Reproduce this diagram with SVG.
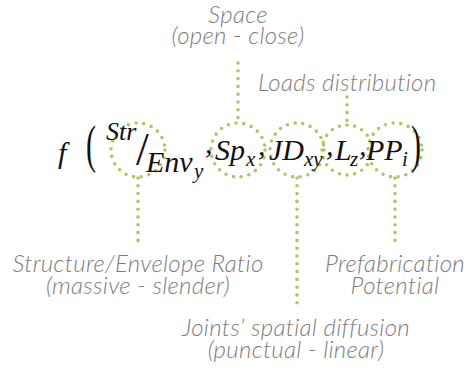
<svg xmlns="http://www.w3.org/2000/svg" width="469" height="370" viewBox="0 0 469 370">
<style>
.dot{fill:none;stroke:#afc566;stroke-width:3.6;stroke-linecap:round;stroke-dasharray:0 7.8}
.lbl{font-family:Lato,"Open Sans",sans-serif;font-style:italic;font-weight:300;font-size:24px;letter-spacing:0.3px;fill:#7d7d7d}
.m{font-family:"Liberation Serif",serif;font-style:italic;fill:#111;font-size:30px}
.s{font-size:21px}
.p{font-style:normal;font-size:30px}
</style>
<rect width="469" height="370" fill="#fff"/>
<g id="connectors">
<line class="dot" x1="238" y1="63" x2="238" y2="122"/>
<line class="dot" x1="347" y1="97" x2="347" y2="122"/>
<line class="dot" x1="138" y1="178" x2="138" y2="245"/>
<line class="dot" x1="297" y1="178" x2="297" y2="308"/>
<line class="dot" x1="395" y1="178" x2="395" y2="245"/>
</g>
<g id="circles">
<circle class="dot" cx="138" cy="150" r="27"/>
<circle class="dot" cx="238" cy="150" r="27"/>
<circle class="dot" cx="297" cy="150" r="27"/>
<circle class="dot" cx="347" cy="150" r="25"/>
<circle class="dot" cx="395" cy="150" r="27"/>
</g>
<g id="formula" class="m">
<text x="58" y="163">f</text>
<text class="p" transform="translate(86,162) scale(1,1.75)">(</text>
<text x="106" y="140" font-size="26">Str</text>
<text x="136" y="165" font-size="46" font-style="normal">/</text>
<text x="146" y="172">Env</text>
<text x="194" y="178" class="s">y</text>
<text x="205" y="153">,</text>
<text x="215" y="160">Sp</text>
<text x="246" y="166" class="s">x</text>
<text x="258" y="155">,</text>
<text x="269" y="160">JD</text>
<text x="304" y="166" class="s">xy</text>
<text x="326" y="155">,</text>
<text x="335" y="160">L</text>
<text x="350" y="166" class="s">z</text>
<text x="359" y="155">,</text>
<text x="366" y="160">PP</text>
<text x="402" y="166" class="s">i</text>
<text class="p" transform="translate(411,162) scale(1,1.75)">)</text>
</g>
<g id="label-space" class="lbl" text-anchor="middle">
<text x="238" y="23">Space</text>
<text x="238" y="44">(open - close)</text>
</g>
<g id="label-loads" class="lbl">
<text x="258" y="91">Loads distribution</text>
</g>
<g id="label-str" class="lbl" text-anchor="middle">
<text x="138" y="272">Structure/Envelope Ratio</text>
<text x="138" y="294">(massive - slender)</text>
</g>
<g id="label-joints" class="lbl" text-anchor="middle">
<text x="296" y="336">Joints’ spatial diffusion</text>
<text x="296" y="358">(punctual - linear)</text>
</g>
<g id="label-pp" class="lbl" text-anchor="middle">
<text x="395" y="272">Prefabrication</text>
<text x="395" y="294">Potential</text>
</g>
</svg>
